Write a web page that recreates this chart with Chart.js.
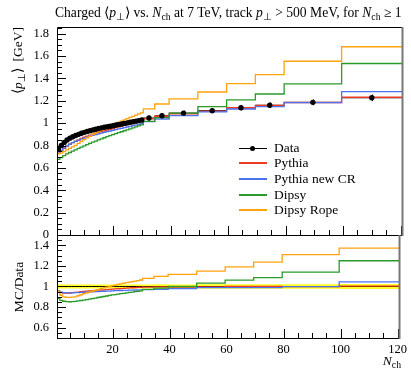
<!DOCTYPE html>
<html><head><meta charset="utf-8">
<script src="https://cdn.jsdelivr.net/npm/chart.js@4/dist/chart.umd.min.js"></script>
<style>
html,body{margin:0;padding:0;background:#fff;}
#wrap{position:relative;width:411px;height:369px;overflow:hidden;font-family:"Liberation Serif",serif;color:#000;}
canvas{position:absolute;left:0;top:0;}
.t{position:absolute;white-space:nowrap;line-height:1;}
.s{font-size:72%;position:relative;top:0.3em;}
.lg{position:absolute;left:239px;width:28px;height:2px;}
.lt{position:absolute;left:274px;font-size:13.5px;line-height:1;white-space:nowrap;}
</style></head><body>
<div id="wrap">
<canvas id="cTop" width="411" height="369"></canvas>
<canvas id="cBot" width="411" height="369"></canvas>
<div class="t" style="left:55px;top:6px;font-size:13.6px;">Charged ⟨<i>p</i><span class="s">⊥</span>⟩ vs. <i>N</i><span class="s">ch</span> at 7 TeV, track <i>p</i><span class="s">⊥</span> &gt; 500 MeV, for <i>N</i><span class="s">ch</span> ≥ 1</div>
<div class="t" style="left:11px;top:127px;width:100px;text-align:right;transform-origin:0 0;transform:rotate(-90deg);font-size:13.5px;">⟨<i>p</i><span class="s">⊥</span>⟩ &nbsp;[GeV]</div>
<div class="t" style="left:12px;top:336.7px;width:100px;text-align:center;transform-origin:0 0;transform:rotate(-90deg);font-size:13.5px;">MC/Data</div>
<div class="t" style="right:10px;top:354px;font-size:13.5px;"><i>N</i><span class="s">ch</span></div>
<div id="legend"></div>
</div>
<script>
// ---- data ----
const binEdges = [0.5,1.5,2.5,3.5,4.5,5.5,6.5,7.5,8.5,9.5,10.5,11.5,12.5,13.5,14.5,15.5,16.5,17.5,18.5,19.5,20.5,21.5,22.5,23.5,24.5,25.5,26.5,27.5,28.5,29.5,30.5,34.5,39.5,49.5,59.5,69.5,79.5,99.5,120.5];
const binCenters = [1,2,3,4,5,6,7,8,9,10,11,12,13,14,15,16,17,18,19,20,21,22,23,24,25,26,27,28,29,30,32.5,37,44.5,54.5,64.5,74.5,89.5,110];
const dataMean = [0.765,0.80,0.828,0.85,0.866,0.879,0.89,0.90,0.91,0.918,0.926,0.933,0.94,0.946,0.952,0.958,0.963,0.968,0.973,0.978,0.983,0.988,0.993,0.998,1.003,1.008,1.013,1.018,1.023,1.028,1.046,1.066,1.09,1.112,1.138,1.16,1.186,1.227];
const dataErr = [0.016,0.016,0.017,0.017,0.017,0.018,0.018,0.018,0.018,0.018,0.019,0.019,0.019,0.019,0.019,0.019,0.019,0.019,0.019,0.019,0.02,0.02,0.02,0.02,0.02,0.02,0.02,0.02,0.02,0.02,0.021,0.022,0.022,0.023,0.024,0.025,0.026,0.03];
const ratioPythia = [0.955,0.94,0.935,0.935,0.937,0.94,0.943,0.946,0.949,0.952,0.955,0.958,0.96,0.962,0.964,0.966,0.968,0.97,0.972,0.974,0.976,0.978,0.98,0.982,0.984,0.986,0.988,0.99,0.991,0.992,0.994,0.996,0.994,0.996,1.0,1.0,0.999,1.004];
const ratioPythiaNewCR = [0.955,0.945,0.94,0.938,0.938,0.939,0.94,0.941,0.943,0.944,0.945,0.947,0.948,0.95,0.951,0.952,0.954,0.955,0.956,0.958,0.959,0.96,0.961,0.962,0.963,0.964,0.965,0.966,0.967,0.968,0.97,0.973,0.98,0.99,0.99,0.99,0.998,1.045];
const ratioDipsy = [0.885,0.866,0.857,0.853,0.852,0.853,0.856,0.86,0.864,0.868,0.873,0.878,0.883,0.888,0.893,0.898,0.903,0.908,0.913,0.918,0.922,0.926,0.93,0.934,0.938,0.942,0.946,0.95,0.954,0.958,0.972,0.985,1.0,1.033,1.062,1.087,1.14,1.25];
const ratioDipsyRope = [0.95,0.915,0.9,0.895,0.895,0.897,0.9,0.91,0.92,0.93,0.938,0.946,0.954,0.962,0.97,0.978,0.986,0.993,1.0,1.007,1.014,1.02,1.026,1.032,1.038,1.043,1.048,1.053,1.058,1.063,1.078,1.099,1.117,1.15,1.19,1.236,1.31,1.372];
const seriesNames = ["Pythia","Pythia new CR","Dipsy","Dipsy Rope"];
const seriesColors = ["#ee3a22","#4d72ee","#2a9a2a","#ffa20f"];
const seriesRatios = [ratioPythia, ratioPythiaNewCR, ratioDipsy, ratioDipsyRope];
const yTicksTop = [0,0.2,0.4,0.6,0.8,1,1.2,1.4,1.6,1.8];
const yTicksBottom = [0.6,0.8,1,1.2,1.4];
const xTicks = [20,40,60,80,100,120];

// ---- helpers ----
function steps(vals){
  const pts=[];
  for(let i=0;i<vals.length;i++){pts.push({x:binEdges[i],y:vals[i]});pts.push({x:binEdges[i+1],y:vals[i]});}
  return pts;
}
function bars(vals){
  const pts=[];
  for(let i=0;i<vals.length;i++){pts.push({x:binEdges[i],y:vals[i]});pts.push({x:binEdges[i+1],y:vals[i]});pts.push({x:binEdges[i+1],y:null});}
  return pts;
}
const FONT = {family:"Liberation Serif", size:12.5};

function framePlugin(majY, minStepY){
  return {
    id:'frame',
    afterDraw(chart){
      const ctx=chart.ctx, a=chart.chartArea, xs=chart.scales.x, ys=chart.scales.y;
      ctx.save();
      ctx.strokeStyle='#000'; ctx.lineWidth=1;
      ctx.beginPath();
      const ymin=ys.min, ymax=ys.max;
      for(let v=Math.ceil(ymin/minStepY-1e-6)*minStepY; v<=ymax+1e-9; v+=minStepY){
        const isMaj = majY.some(m=>Math.abs(m-v)<1e-6);
        const p=Math.round(ys.getPixelForValue(v))+0.5;
        ctx.moveTo(a.left, p); ctx.lineTo(a.left+(isMaj?9:5), p);
      }
      for(let v=5; v<=xs.max; v+=5){
        const isMaj = xTicks.includes(v);
        const p=Math.round(xs.getPixelForValue(v))+0.5;
        ctx.moveTo(p, a.bottom); ctx.lineTo(p, a.bottom-(isMaj?9:5));
      }
      ctx.stroke();
      ctx.beginPath();
      ctx.moveTo(a.right, a.top+0.5); ctx.lineTo(a.left+0.5, a.top+0.5);
      ctx.lineTo(a.left+0.5, a.bottom+0.5); ctx.lineTo(a.right, a.bottom+0.5);
      ctx.stroke();
      ctx.strokeStyle='#777'; ctx.lineWidth=2;
      ctx.beginPath(); ctx.moveTo(a.right+0.5, a.top); ctx.lineTo(a.right+0.5, a.bottom+1); ctx.stroke();
      ctx.restore();
    }
  };
}
const errPlugin = {
  id:'errbars',
  afterDatasetsDraw(chart){
    const ctx=chart.ctx, xs=chart.scales.x, ys=chart.scales.y;
    ctx.save(); ctx.strokeStyle='#000'; ctx.lineWidth=1;
    ctx.beginPath();
    for(let i=0;i<binCenters.length;i++){
      const x=Math.round(xs.getPixelForValue(binCenters[i]))+0.5;
      ctx.moveTo(x, ys.getPixelForValue(dataMean[i]-dataErr[i]));
      ctx.lineTo(x, ys.getPixelForValue(dataMean[i]+dataErr[i]));
    }
    ctx.stroke(); ctx.restore();
  }
};

// ---- upper panel ----
const topSets = [];
topSets.push({label:'Data', data: binCenters.map((c,i)=>({x:c,y:dataMean[i]})), showLine:false, pointRadius:2.7, pointBackgroundColor:'#000', pointBorderWidth:0, borderColor:'#000', order:0});
topSets.push({label:'Data bars', data: bars(dataMean), borderColor:'#000', borderWidth:1, pointRadius:0, spanGaps:false, order:10});
seriesRatios.forEach((r,k)=>{
  topSets.push({label:seriesNames[k], data: steps(r.map((v,i)=>v*dataMean[i])), borderColor:seriesColors[k], borderWidth:1.3, pointRadius:0, order:8-k});
});
new Chart(document.getElementById('cTop'), {
  type:'line',
  data:{datasets:topSets},
  options:{
    responsive:false, animation:false, devicePixelRatio:1,
    layout:{padding:{top:27,right:9,bottom:134,left:0}},
    elements:{line:{tension:0}},
    plugins:{legend:{display:false},tooltip:{enabled:false}},
    scales:{
      x:{type:'linear',min:0.5,max:120.5,display:false},
      y:{type:'linear',min:0,max:1.86,
         afterFit(s){s.width=57;},
         afterBuildTicks(s){s.ticks=yTicksTop.map(v=>({value:v}));},
         grid:{display:false,drawTicks:false}, border:{display:false},
         ticks:{font:FONT,color:'#000',padding:8,callback:v=>String(Math.round(v*10)/10)}}
    }
  },
  plugins:[framePlugin(yTicksTop,0.05), errPlugin]
});

// ---- lower panel ----
const relErrLo = dataMean.map((m,i)=>1-dataErr[i]/m);
const relErrHi = dataMean.map((m,i)=>1+dataErr[i]/m);
const botSets = [];
botSets.push({label:'band lo', data: steps(relErrLo), borderWidth:0, borderColor:'rgba(0,0,0,0)', pointRadius:0, fill:false, order:20});
botSets.push({label:'band hi', data: steps(relErrHi), borderWidth:0, borderColor:'rgba(0,0,0,0)', pointRadius:0, fill:'-1', backgroundColor:'#ffff22', order:19});
botSets.push({label:'Data', data: bars(dataMean.map(()=>1)), borderColor:'#000', borderWidth:1, pointRadius:0, spanGaps:false, order:15});
seriesRatios.forEach((r,k)=>{
  botSets.push({label:seriesNames[k], data: steps(r), borderColor:seriesColors[k], borderWidth:1.3, pointRadius:0, order:8-k});
});
new Chart(document.getElementById('cBot'), {
  type:'line',
  data:{datasets:botSets},
  options:{
    responsive:false, animation:false, devicePixelRatio:1,
    layout:{padding:{top:235,right:9,bottom:0,left:0}},
    elements:{line:{tension:0}},
    plugins:{legend:{display:false},tooltip:{enabled:false}},
    scales:{
      x:{type:'linear',min:0.5,max:120.5,
         afterFit(s){s.height=31;},
         afterBuildTicks(s){s.ticks=xTicks.map(v=>({value:v}));},
         grid:{display:false,drawTicks:false}, border:{display:false},
         ticks:{font:FONT,color:'#000',padding:4,maxRotation:0,autoSkip:false}},
      y:{type:'linear',min:0.5,max:1.5,
         afterFit(s){s.width=57;},
         afterBuildTicks(s){s.ticks=yTicksBottom.map(v=>({value:v}));},
         grid:{display:false,drawTicks:false}, border:{display:false},
         ticks:{font:FONT,color:'#000',padding:8,callback:v=>String(Math.round(v*10)/10)}}
    }
  },
  plugins:[framePlugin(yTicksBottom,0.05)]
});

// ---- legend ----
const lg=document.getElementById('legend');
const names=['Data'].concat(seriesNames), cols=['#000'].concat(seriesColors);
names.forEach((n,i)=>{
  const y=Math.round(147.7+i*15.6);
  const l=document.createElement('div'); l.className='lg';
  l.style.top=(y-1)+'px'; l.style.background=cols[i];
  if(i===0){l.style.height='1px';l.style.top=y+'px';}
  lg.appendChild(l);
  if(i===0){const d=document.createElement('div');d.style.cssText='position:absolute;left:250px;top:'+(y-2)+'px;width:5px;height:5px;border-radius:50%;background:#000;';lg.appendChild(d);}
  const t=document.createElement('div'); t.className='lt'; t.textContent=n; t.style.top=(y-7)+'px';
  lg.appendChild(t);
});
</script>
</body></html>
